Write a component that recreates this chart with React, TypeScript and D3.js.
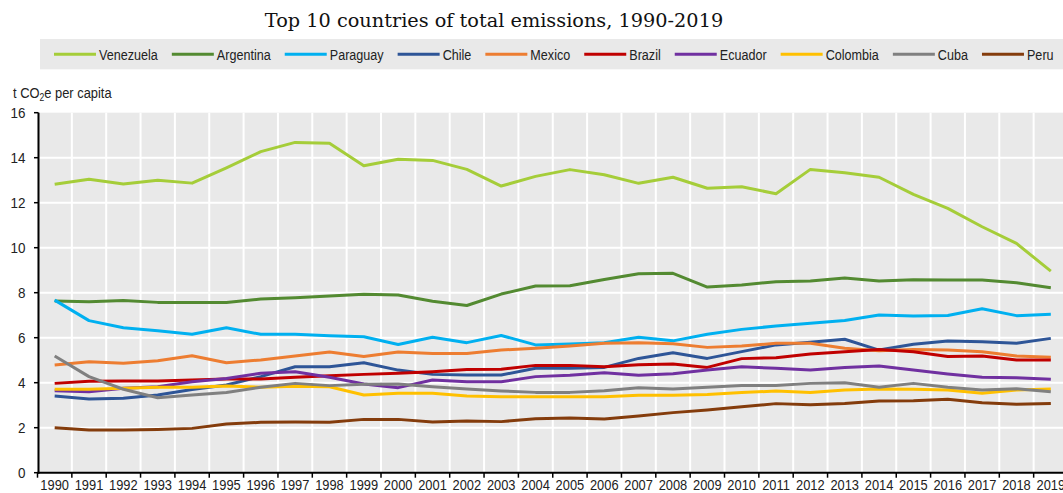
import React, { useEffect, useRef } from "react";
import * as d3 from "d3";

const YEARS = [1990, 1991, 1992, 1993, 1994, 1995, 1996, 1997, 1998, 1999, 2000, 2001, 2002, 2003, 2004, 2005, 2006, 2007, 2008, 2009, 2010, 2011, 2012, 2013, 2014, 2015, 2016, 2017, 2018, 2019];
const COUNTRIES = ["Venezuela", "Argentina", "Paraguay", "Chile", "Mexico", "Brazil", "Ecuador", "Colombia", "Cuba", "Peru"];
const COLORS = ["#a5cd39", "#538a31", "#00b0f0", "#2e5597", "#ed7d31", "#c00000", "#7030a0", "#ffc000", "#808080", "#843c0c"];
const Y_TICKS = [0, 2, 4, 6, 8, 10, 12, 14, 16];

const VENEZUELA = [12.82, 13.04, 12.83, 13.0, 12.87, 13.55, 14.27, 14.68, 14.64, 13.64, 13.93, 13.88, 13.48, 12.74, 13.17, 13.47, 13.24, 12.86, 13.13, 12.64, 12.71, 12.4, 13.48, 13.33, 13.13, 12.37, 11.75, 10.93, 10.19, 8.96];
const ARGENTINA = [7.63, 7.6, 7.65, 7.57, 7.57, 7.56, 7.72, 7.78, 7.85, 7.93, 7.9, 7.62, 7.43, 7.94, 8.3, 8.31, 8.59, 8.84, 8.86, 8.25, 8.34, 8.49, 8.52, 8.65, 8.52, 8.58, 8.56, 8.56, 8.44, 8.22];
const PARAGUAY = [7.67, 6.76, 6.44, 6.31, 6.15, 6.44, 6.15, 6.15, 6.09, 6.04, 5.7, 6.02, 5.78, 6.1, 5.68, 5.72, 5.78, 6.02, 5.86, 6.15, 6.37, 6.52, 6.64, 6.76, 7.01, 6.96, 6.99, 7.29, 6.98, 7.04];
const CHILE = [3.41, 3.28, 3.31, 3.45, 3.7, 3.9, 4.27, 4.71, 4.71, 4.89, 4.56, 4.37, 4.34, 4.34, 4.64, 4.64, 4.68, 5.08, 5.33, 5.08, 5.38, 5.68, 5.8, 5.93, 5.45, 5.71, 5.85, 5.82, 5.75, 5.97];
const MEXICO = [4.79, 4.93, 4.86, 4.98, 5.2, 4.89, 5.01, 5.19, 5.36, 5.16, 5.36, 5.3, 5.3, 5.45, 5.53, 5.63, 5.75, 5.78, 5.73, 5.57, 5.63, 5.75, 5.75, 5.53, 5.42, 5.48, 5.45, 5.38, 5.19, 5.13];
const BRAZIL = [3.97, 4.06, 4.08, 4.08, 4.12, 4.16, 4.16, 4.24, 4.31, 4.37, 4.42, 4.49, 4.59, 4.6, 4.77, 4.77, 4.71, 4.8, 4.83, 4.68, 5.07, 5.11, 5.28, 5.38, 5.48, 5.38, 5.16, 5.19, 5.01, 5.01];
const ECUADOR = [3.64, 3.6, 3.75, 3.82, 4.04, 4.19, 4.42, 4.49, 4.24, 3.94, 3.78, 4.12, 4.04, 4.04, 4.27, 4.33, 4.44, 4.33, 4.4, 4.56, 4.71, 4.64, 4.56, 4.68, 4.74, 4.56, 4.39, 4.24, 4.22, 4.15];
const COLOMBIA = [3.71, 3.71, 3.75, 3.8, 3.8, 3.85, 3.8, 3.84, 3.82, 3.45, 3.53, 3.53, 3.41, 3.38, 3.38, 3.38, 3.38, 3.44, 3.44, 3.48, 3.56, 3.63, 3.56, 3.68, 3.72, 3.71, 3.68, 3.53, 3.68, 3.72];
const CUBA = [5.19, 4.27, 3.71, 3.33, 3.45, 3.56, 3.8, 3.97, 3.87, 3.93, 3.94, 3.82, 3.72, 3.63, 3.57, 3.57, 3.64, 3.78, 3.72, 3.8, 3.88, 3.88, 3.97, 4.0, 3.8, 3.97, 3.8, 3.68, 3.73, 3.6];
const PERU = [2.0, 1.9, 1.9, 1.92, 1.97, 2.16, 2.24, 2.25, 2.24, 2.37, 2.37, 2.25, 2.3, 2.27, 2.4, 2.43, 2.39, 2.52, 2.67, 2.79, 2.93, 3.07, 3.02, 3.08, 3.19, 3.2, 3.26, 3.11, 3.04, 3.08];

const SERIES = [VENEZUELA, ARGENTINA, PARAGUAY, CHILE, MEXICO, BRAZIL, ECUADOR, COLOMBIA, CUBA, PERU];

const W = 1063;
const H = 493;
const FONT = "'Liberation Sans', Arial, sans-serif";
const BG = "#e9e9e9";

function narrowText(
  parent: d3.Selection<any, unknown, null, undefined>,
  x: number,
  y: number,
  str: string,
  anchor: string,
  size: number,
  ratio: number
) {
  return parent
    .append("text")
    .attr("transform", `translate(${x},${y}) scale(${ratio},1)`)
    .attr("text-anchor", anchor)
    .attr("font-family", FONT)
    .attr("font-size", size)
    .attr("fill", "#222")
    .text(str);
}

export default function App() {
  const ref = useRef<SVGSVGElement>(null);

  useEffect(() => {
    const svg = d3.select(ref.current) as d3.Selection<any, unknown, null, undefined>;
    svg.selectAll("*").remove();

    const x = d3.scaleBand<number>().domain(YEARS).range([37.5, 1068]).padding(0);
    const y = d3.scaleLinear().domain([0, 16]).range([472.7, 112.7]);
    const cx = (yr: number) => (x(yr) as number) + x.bandwidth() / 2;

    // Title
    svg.append("text")
      .attr("x", 494)
      .attr("y", 27)
      .attr("text-anchor", "middle")
      .attr("font-family", "'DejaVu Serif', serif")
      .attr("font-size", 19.3)
      .attr("fill", "#111")
      .text("Top 10 countries of total emissions, 1990-2019");

    // Legend
    const LEG_RATIO = 0.84;
    const lg = svg.append("g");
    lg.append("rect").attr("x", 40).attr("y", 39).attr("width", W - 40).attr("height", 30.3).attr("fill", BG);
    let lx = 54;
    COUNTRIES.forEach((c, i) => {
      lg.append("line")
        .attr("x1", lx).attr("x2", lx + 42)
        .attr("y1", 54.3).attr("y2", 54.3)
        .attr("stroke", COLORS[i]).attr("stroke-width", 3);
      const t = narrowText(lg, lx + 45, 60, c, "start", 15, LEG_RATIO);
      const tw = (t.node() as SVGTextElement).getComputedTextLength() * LEG_RATIO;
      lx = lx + 45 + tw + 14;
    });

    // Y-axis title
    const yt = narrowText(svg, 13, 98, "", "start", 15, 0.86);
    yt.append("tspan").text("t CO");
    yt.append("tspan").attr("font-size", 10).attr("dy", 3).text("2");
    yt.append("tspan").attr("dy", -3).text("e per capita");

    // Plot background
    const [x0, x1] = x.range();
    svg.append("rect")
      .attr("x", x0).attr("y", y(16))
      .attr("width", x1 - x0).attr("height", y(0) - y(16))
      .attr("fill", BG);

    // Grid
    const grid = svg.append("g").attr("stroke", "#fff").attr("stroke-width", 2);
    YEARS.slice(1).forEach((yr) => {
      grid.append("line")
        .attr("x1", x(yr) as number).attr("x2", x(yr) as number)
        .attr("y1", y(16)).attr("y2", y(0));
    });
    Y_TICKS.filter((v) => v > 0 && v < 16).forEach((v) => {
      grid.append("line")
        .attr("x1", x0).attr("x2", x1)
        .attr("y1", y(v)).attr("y2", y(v));
    });

    // Lines
    const line = d3.line<number>()
      .x((_, i) => cx(YEARS[i]))
      .y((d) => y(d));
    SERIES.forEach((s, i) => {
      svg.append("path")
        .attr("d", line(s) as string)
        .attr("fill", "none")
        .attr("stroke", COLORS[i])
        .attr("stroke-width", 3)
        .attr("stroke-linejoin", "round");
    });

    // Axes
    const ax = svg.append("g").attr("stroke", "#000");
    ax.append("line").attr("x1", 38.5).attr("x2", 38.5).attr("y1", y(16)).attr("y2", y(0) + 1).attr("stroke-width", 2);
    ax.append("line").attr("x1", 37.5).attr("x2", x1).attr("y1", y(0)).attr("y2", y(0)).attr("stroke-width", 2);
    Y_TICKS.forEach((v) => {
      ax.append("line").attr("x1", 34).attr("x2", 38.5).attr("y1", y(v)).attr("y2", y(v)).attr("stroke-width", 1.5);
      narrowText(svg, 25.5, y(v) + 5, String(v), "end", 14, 0.96);
    });
    YEARS.forEach((yr) => {
      ax.append("line")
        .attr("x1", x(yr) as number).attr("x2", x(yr) as number)
        .attr("y1", y(0)).attr("y2", y(0) + 5).attr("stroke-width", 1.5);
      narrowText(svg, cx(yr), 489.8, String(yr), "middle", 14, 0.92);
    });
  }, []);

  return (
    <svg
      ref={ref}
      width={W}
      height={H}
      style={{ position: "absolute", left: 0, top: 0, background: "#fff" }}
    />
  );
}
